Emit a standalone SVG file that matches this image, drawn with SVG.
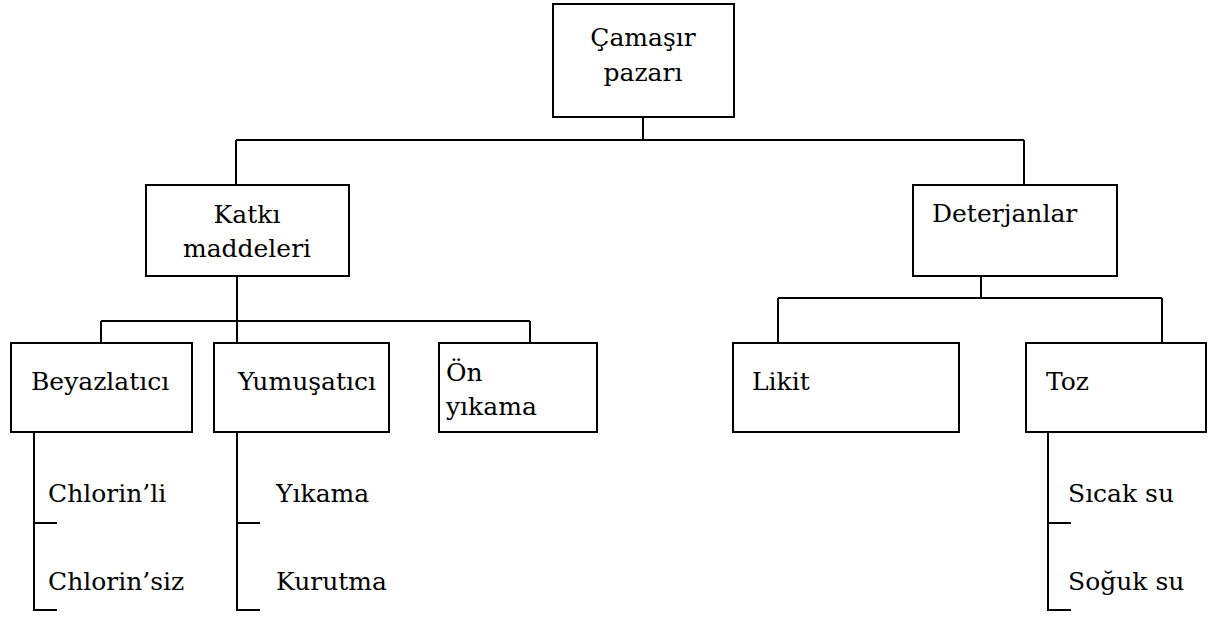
<svg xmlns="http://www.w3.org/2000/svg" width="1214" height="618" viewBox="0 0 1214 618">
  <style>
    .box { fill: #ffffff; stroke: #000000; stroke-width: 2; }
    .wire { fill: none; stroke: #000000; stroke-width: 2; }
    .mid { text-anchor: middle; }
  </style>
  <rect width="1214" height="618" fill="#ffffff"/>

  <!-- tree connectors -->
  <g id="connectors" class="wire">
    <path d="M643,117 V140 M236,140 H1024 M236,140 V185 M1024,140 V185"/>
    <path d="M237,276 V321 M101,321 H530 M101,321 V343 M237,321 V343 M530,321 V343"/>
    <path d="M981,276 V298 M778,298 H1162 M778,298 V343 M1162,298 V343"/>
    <path d="M34,432 V610 H57 M34,523 H57"/>
    <path d="M237,432 V610 H260 M237,523 H260"/>
    <path d="M1048,432 V610 H1071 M1048,523 H1071"/>
  </g>

  <g font-family="DejaVu Serif, serif" font-size="25" fill="#000000">
    <g id="root">
      <rect class="box" x="553" y="4" width="181" height="113"/>
      <text class="mid" x="643" y="46">Çamaşır</text>
      <text class="mid" x="643" y="81">pazarı</text>
    </g>

    <g id="katki">
      <rect class="box" x="146" y="185" width="203" height="91"/>
      <text class="mid" x="247" y="223">Katkı</text>
      <text class="mid" x="247" y="257">maddeleri</text>
    </g>

    <g id="deterjanlar">
      <rect class="box" x="913" y="185" width="204" height="91"/>
      <text x="932" y="222">Deterjanlar</text>
    </g>

    <g id="beyazlatici">
      <rect class="box" x="11" y="343" width="181" height="89"/>
      <text x="31" y="390">Beyazlatıcı</text>
    </g>

    <g id="yumusatici">
      <rect class="box" x="214" y="343" width="175" height="89"/>
      <text x="238" y="390">Yumuşatıcı</text>
    </g>

    <g id="on-yikama">
      <rect class="box" x="439" y="343" width="158" height="89"/>
      <text x="446" y="381">Ön</text>
      <text x="446" y="415">yıkama</text>
    </g>

    <g id="likit">
      <rect class="box" x="733" y="343" width="226" height="89"/>
      <text x="752" y="390">Likit</text>
    </g>

    <g id="toz">
      <rect class="box" x="1026" y="343" width="180" height="89"/>
      <text x="1046" y="390">Toz</text>
    </g>

    <g id="chlorinli"><text x="48" y="502">Chlorin’li</text></g>
    <g id="chlorinsiz"><text x="48" y="590">Chlorin’siz</text></g>
    <g id="yikama"><text x="276" y="502">Yıkama</text></g>
    <g id="kurutma"><text x="276" y="590">Kurutma</text></g>
    <g id="sicak-su"><text x="1068" y="502">Sıcak su</text></g>
    <g id="soguk-su"><text x="1068" y="590">Soğuk su</text></g>
  </g>
</svg>
